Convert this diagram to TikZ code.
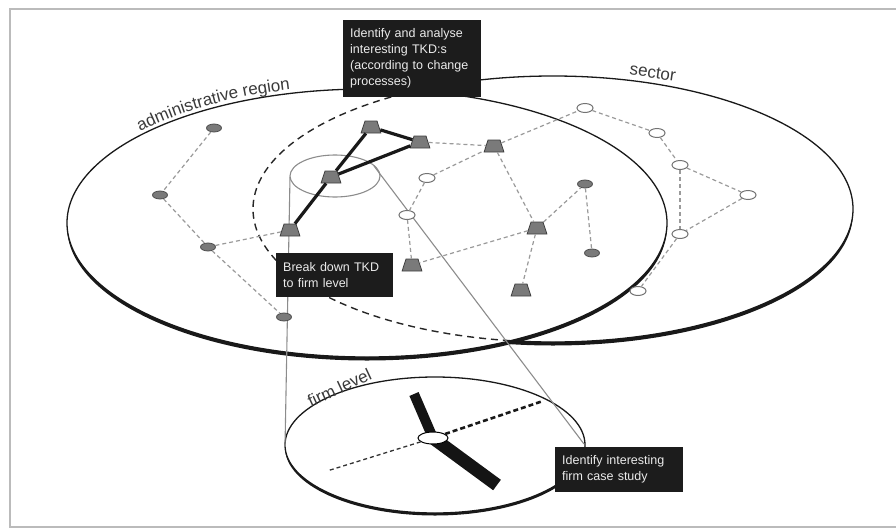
\documentclass[tikz,border=0pt]{standalone}
\usepackage{fontspec}
\setmainfont{Liberation Sans}
\usetikzlibrary{shapes.geometric,decorations.text}
\definecolor{framegray}{HTML}{BBBBBB}
\definecolor{linkgray}{HTML}{9A9A9A}
\definecolor{nodegray}{HTML}{7A7A7A}
\definecolor{boxblack}{HTML}{1C1C1C}
\definecolor{labelgray}{HTML}{3A3A3A}
\definecolor{cylgray}{HTML}{8C8C8C}
\newcommand{\boxfont}{\fontsize{12.5}{16}\selectfont}
\newcommand{\lblfont}{\fontsize{17}{19}\selectfont}
\begin{document}
\begin{tikzpicture}[x=1pt,y=-1pt,
  rim/.style={draw=black!90, line width=1.3pt},
  crescent/.style={fill=black!90, even odd rule},
  hidden/.style={draw=black!85, line width=1.4pt, dash pattern=on 7pt off 5pt},
  link/.style={draw=linkgray, line width=1.2pt, dash pattern=on 4pt off 3pt},
  tkdlink/.style={draw=black!90, line width=3.2pt},
  tkd/.style={trapezium, trapezium left angle=72, trapezium right angle=72, minimum width=15pt, minimum height=12pt, inner sep=1pt, fill=nodegray, draw=black!75, line width=0.8pt},
  darkov/.style={ellipse, minimum width=15pt, minimum height=8pt, inner sep=0pt, fill=nodegray, draw=black!70, line width=0.8pt},
  lightov/.style={ellipse, minimum width=16pt, minimum height=9pt, inner sep=0pt, fill=white, draw=black!55, line width=1pt},
  cyl/.style={draw=cylgray, line width=1.1pt},
  tbox/.style={fill=boxblack, text=white!92!black, font=\boxfont, align=left, inner xsep=7pt, inner ysep=0pt, anchor=north west},
  lbl/.style={text=labelgray, font=\lblfont, inner sep=0pt, anchor=base},
]
\useasboundingbox (0,0) rectangle (896,530);
% frame
\draw[framegray, line width=1.5pt] (896,9) -- (10,9) -- (10,527) -- (896,527);

% sector (solid) with thick lower rim
\draw[rim] (553,209) ellipse [x radius=300, y radius=133];
\begin{scope}
  \clip (0,211) rectangle (896,530);
  \path[crescent] (553,209) ellipse [x radius=300, y radius=133]
                  (553,212.5) ellipse [x radius=300, y radius=133];
\end{scope}
% admin region covers sector
\fill[white] (367,223) ellipse [x radius=300, y radius=134];
\begin{scope}
  \clip (367,223) ellipse [x radius=300, y radius=134];
  \draw[hidden] (553,209) ellipse [x radius=300, y radius=133];
\end{scope}
\draw[rim] (367,223) ellipse [x radius=300, y radius=134];
\begin{scope}
  \clip (0,225) rectangle (896,530);
  \path[crescent] (367,223) ellipse [x radius=300, y radius=134]
                  (367,226.5) ellipse [x radius=300, y radius=134];
\end{scope}

% firm level disc
\draw[rim] (435,445) ellipse [x radius=150, y radius=68];
\begin{scope}
  \clip (0,447) rectangle (896,530);
  \path[crescent] (435,445) ellipse [x radius=150, y radius=68]
                  (435,447.5) ellipse [x radius=150, y radius=68];
\end{scope}

% cylinder from TKD to firm level
\draw[cyl] (335,176) ellipse [x radius=45, y radius=21];
\coordinate (cylTL) at (290,177);
\coordinate (cylBL) at (285,447);
\coordinate (cylTR) at (374,166);
\coordinate (cylBR) at (584,444);
\draw[cyl] (cylTL) -- (cylBL);
\draw[cyl] (cylTR) -- (cylBR);

% nodes
\node[darkov] (A1) at (214,128) {};
\node[darkov] (A2) at (160,195) {};
\node[darkov] (A3) at (208,247) {};
\node[darkov] (A4) at (284,317) {};
\node[tkd] (T1) at (290,230) {};
\node[tkd] (T2) at (331,177) {};
\node[tkd] (T3) at (371,127) {};
\node[tkd] (T4) at (420,142) {};
\node[tkd] (T5) at (494,146) {};
\node[tkd] (T6) at (537,228) {};
\node[tkd] (T7) at (412,265) {};
\node[tkd] (T8) at (521,290) {};
\node[lightov] (O1) at (427,178) {};
\node[lightov] (O2) at (407,215) {};
\node[lightov] (O3) at (585,108) {};
\node[lightov] (O4) at (657,133) {};
\node[lightov] (O5) at (680,165) {};
\node[lightov] (O6) at (748,195) {};
\node[lightov] (O7) at (680,234) {};
\node[lightov] (O8) at (638,291) {};
\node[darkov] (D1) at (585,184) {};
\node[darkov] (D2) at (592,253) {};

% dashed links
\foreach \a/\b in {A1/A2,A2/A3,A3/A4,A3/T1,T4/T5,O1/T5,O1/O2,O2/T7,T5/O3,T5/T6,T6/D1,D1/D2,T6/T7,T6/T8,O3/O4,O4/O5,O5/O6,O5/O7,O6/O7,O7/O8}
  \draw[link] (\a) -- (\b);
% TKD links
\foreach \a/\b in {T1/T2,T2/T3,T3/T4,T2/T4}
  \draw[tkdlink] (\a) -- (\b);

% firm level content
\coordinate (fc) at (433,438);
\coordinate (fbu) at (414,394);
\coordinate (fbd) at (497,485);
\coordinate (fdr) at (543,401);
\coordinate (fdl) at (327,471);
\draw[black!92, line width=10pt] (fc) -- (fbu);
\draw[black!92, line width=13pt] (fc) -- (fbd);
\node[ellipse, minimum width=30pt, minimum height=12pt, inner sep=0pt, fill=white, draw=black, line width=1pt] (fo) at (fc) {};
\draw[black!90, line width=2.6pt, dash pattern=on 5pt off 3pt] (fo) -- (fdr);
\draw[black!80, line width=1.3pt, dash pattern=on 4pt off 3pt] (fo) -- (fdl);

% text boxes
\node[tbox, text width=124pt, minimum height=77pt] (box1) at (343,20)
  {Identify and analyse\\interesting TKD:s\\(according to change\\processes)};
\node[tbox, text width=103pt, minimum height=44pt] (box2) at (276,253)
  {Break down TKD\\to firm level};
\node[tbox, text width=114pt, minimum height=45pt] (box3) at (555,447)
  {Identify interesting\\firm case study};

% labels
\path[decorate, decoration={text along path, text={|\lblfont|administrative region}, text color=labelgray, text align={left indent=0pt}}]
  plot[domain=138.5:78, samples=40, smooth, variable=\t] ({367+303*cos(\t)}, {223-138*sin(\t)});
\node[lbl, rotate=-8] (lsector) at (652,78) {sector};
\node[lbl, rotate=25] (lfirm) at (342,393) {firm level};
\end{tikzpicture}
\end{document}
